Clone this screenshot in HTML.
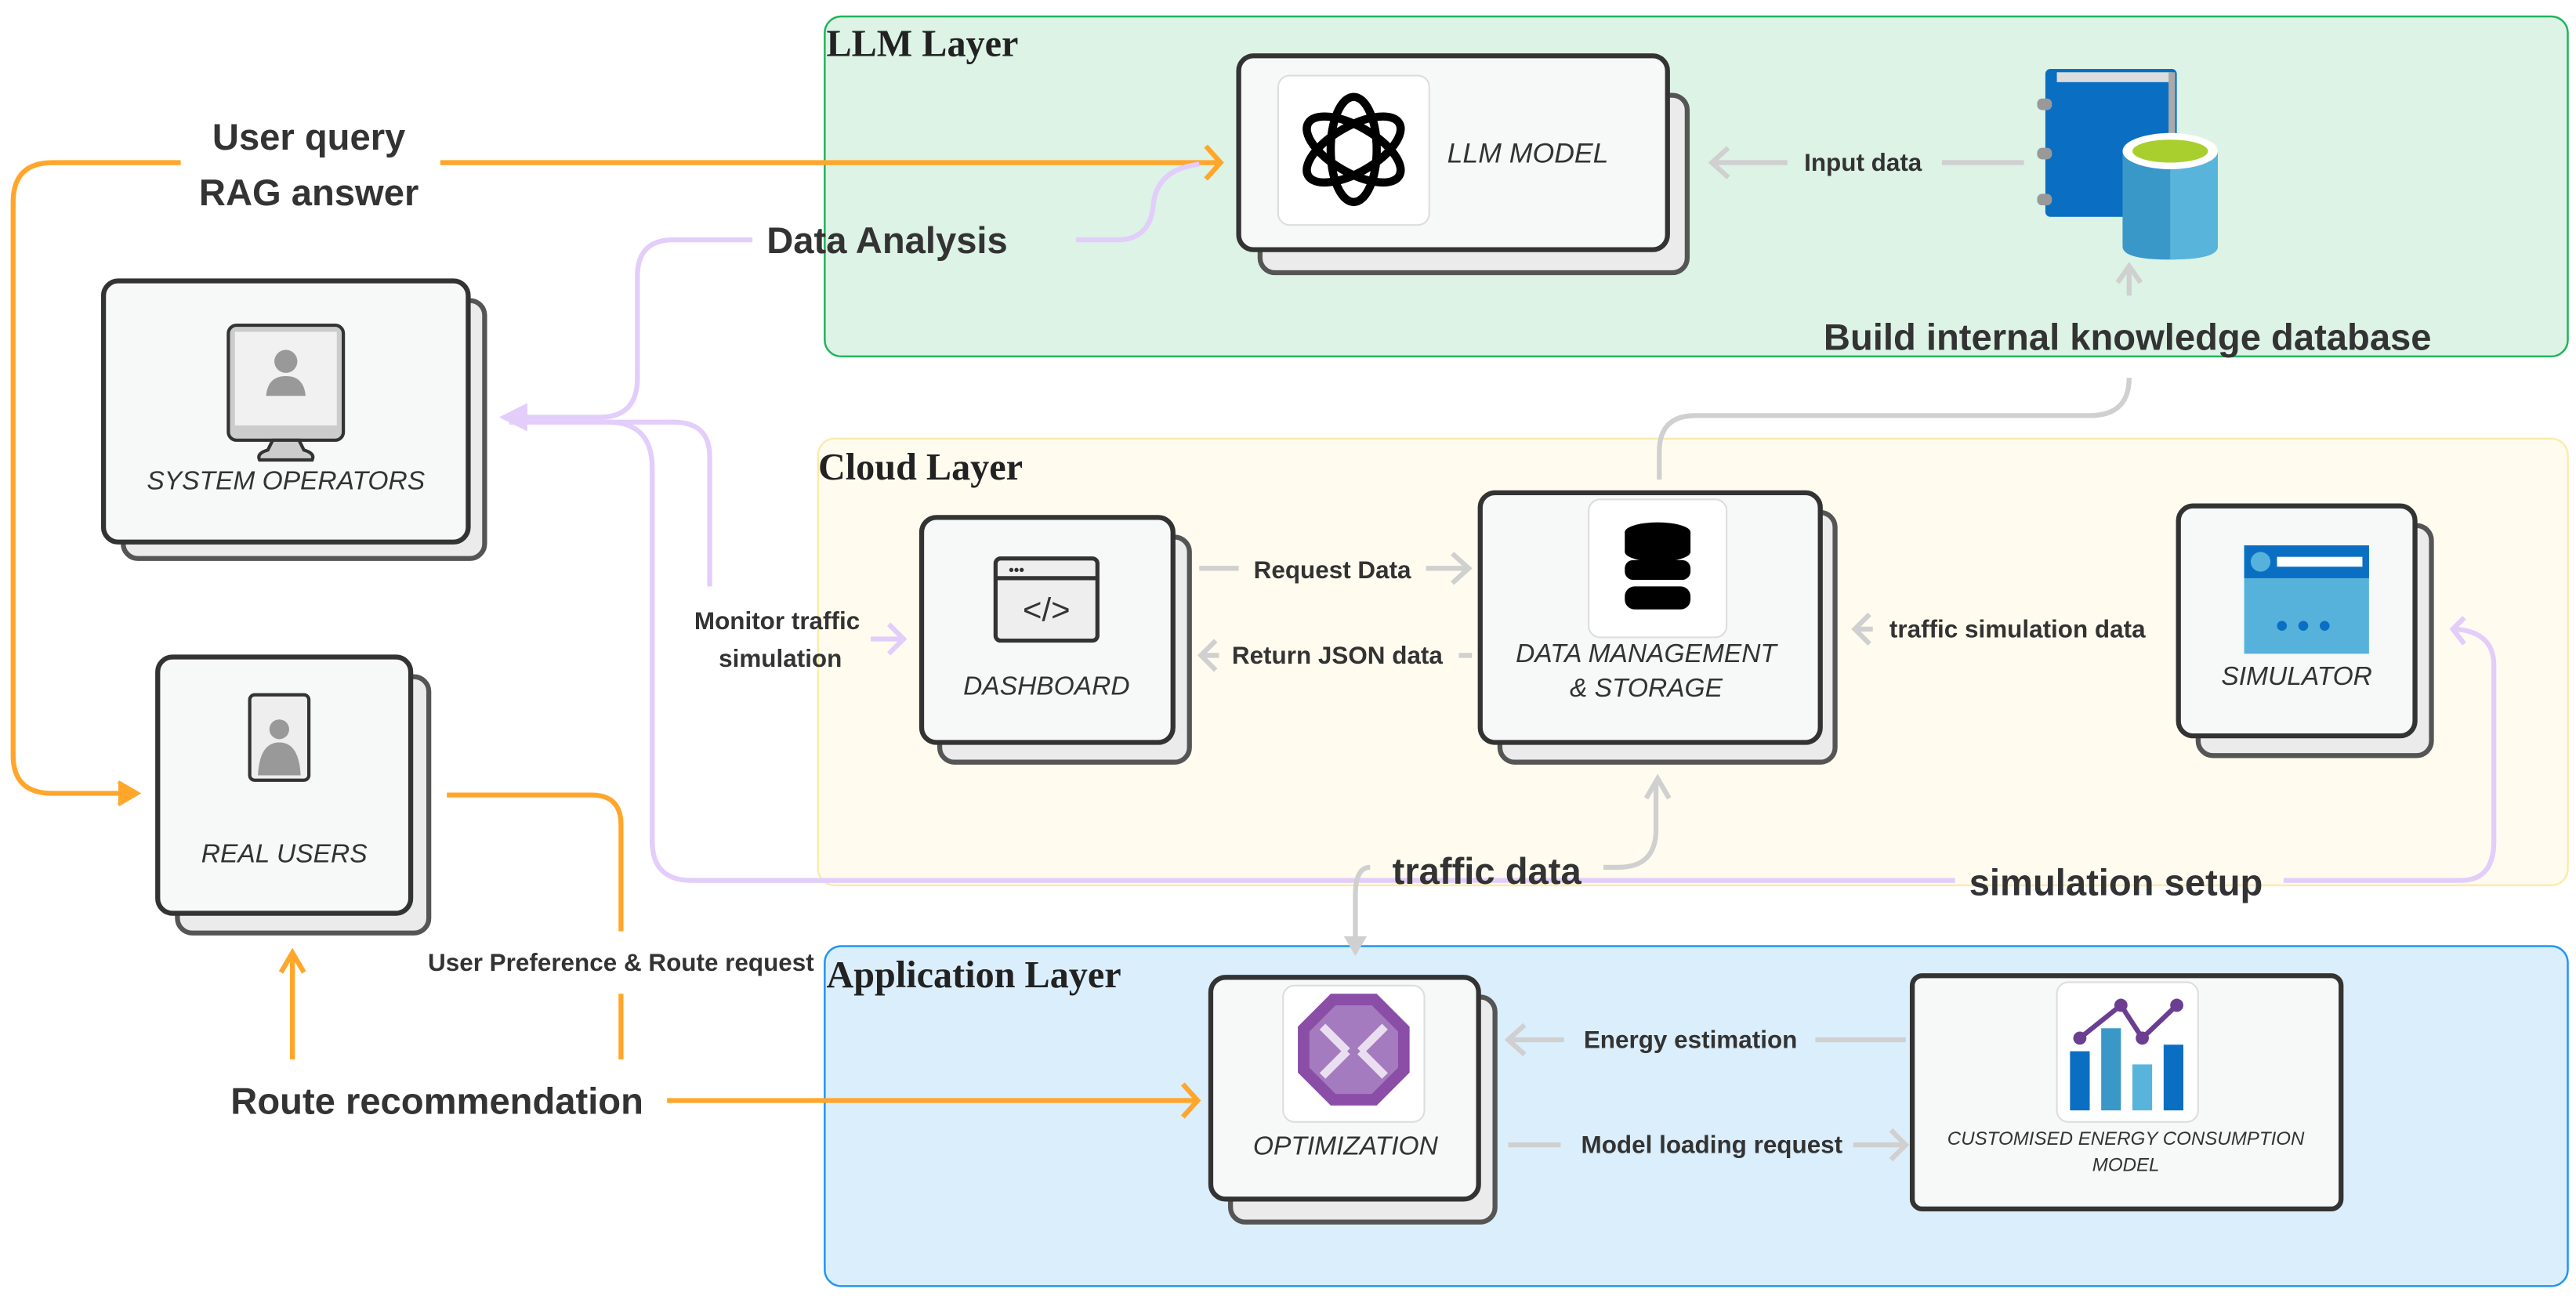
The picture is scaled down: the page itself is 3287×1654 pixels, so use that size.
<!DOCTYPE html>
<html><head><meta charset="utf-8"><style>
html,body{margin:0;padding:0;background:#fff;}
svg{display:block;}
text{font-family:"Liberation Sans",sans-serif;fill:#333;}
.b{font-weight:bold;}
.it{font-style:italic;font-size:16px;fill:#333;}
.t{font-family:"Liberation Serif",serif;font-weight:bold;font-size:23px;fill:#222;}
.o{fill:none;stroke:#ffa62b;stroke-width:3;}
.p{fill:none;stroke:#e2cdfb;stroke-width:3;}
.g{fill:none;stroke:#d0d0d0;stroke-width:3;}
.card{fill:#f7f8f8;stroke:#333;stroke-width:3;}
.sh{fill:#ebebeb;stroke:#555;stroke-width:3;}
.tile{fill:#fff;stroke:#ddd;stroke-width:1;}
</style></head><body>
<svg width="3287" height="1654" viewBox="0 0 1568 789" xmlns="http://www.w3.org/2000/svg">
<rect x="502" y="10" width="1061" height="207" rx="10" fill="#dcf3e6" stroke="#22b35e" stroke-width="1.2"/>
<rect x="498" y="267" width="1065" height="272" rx="10" fill="#fffcef" stroke="#fcebaa" stroke-width="1.2"/>
<rect x="502" y="576" width="1061" height="207" rx="10" fill="#dbeefb" stroke="#2196f3" stroke-width="1.2"/>
<text x="503" y="34" class="t">LLM Layer</text>
<text x="498" y="292" class="t">Cloud Layer</text>
<text x="503" y="601" class="t">Application Layer</text>

<path class="o" d="M110,99 H32 Q8,99 8,123 V460 Q8,483 32,483 H80"/>
<path d="M72,476 L84,483 L72,490" fill="#ffa62b" stroke="#ffa62b" stroke-width="2"/>
<path class="o" d="M268,99 H742"/>
<path class="o" d="M734,89 L743,99 L734,109"/>
<path class="p" d="M655,146 H680 Q700,146 702,125 Q704,103 730,100"/>
<path class="p" d="M458,146 H410 Q388,146 388,168 V230 Q388,254 365,254 H310"/>
<path d="M320,247 L306,254 L320,261 Z" fill="#e2cdfb" stroke="#e2cdfb" stroke-width="2"/>
<path class="p" d="M432,357 V278 Q432,257 410,257 H310"/>
<path class="p" d="M370,257 Q397,257 397,285 V512 Q397,536 421,536 H1190"/>
<path class="p" d="M1390,536 H1498 Q1518,536 1518,512 V405 Q1518,385 1495,383"/>
<path class="p" d="M1500,376 L1493,383 L1500,392"/>
<path class="p" d="M530,389 H549"/><path class="p" d="M541,380 L550,389 L541,398"/>
<path class="g" d="M976,528 H985 Q1008,528 1008,505 V476"/>
<path class="g" d="M1002,486 L1009,474 L1016,486"/>
<path class="g" d="M834,528 Q825,528 825,545 V580"/>
<path d="M818,570 L825,582 L832,570 Z" fill="#d0d0d0"/>
<path class="g" d="M1296,230 Q1296,253 1272,253 H1032 Q1010,253 1010,275 V292"/>
<path class="g" d="M1296,180 V162"/><path class="g" d="M1289,172 L1296,162 L1303,172"/>
<path class="g" d="M1232,99 H1182"/><path class="g" d="M1088,99 H1042"/><path class="g" d="M1052,90 L1042,99 L1052,108"/>
<path class="g" d="M730,346 H754"/><path class="g" d="M868,346 H894"/><path class="g" d="M884,337 L894,346 L884,355"/>
<path class="g" d="M740,390 L731,399 L740,408"/><path class="g" d="M731,399 H742"/><path class="g" d="M888,399 H896"/>
<path class="g" d="M1138,374 L1129,383 L1138,392"/><path class="g" d="M1129,383 H1140"/>
<path class="g" d="M928,624 L918,633 L928,642"/><path class="g" d="M918,633 H952"/><path class="g" d="M1105,633 H1160"/>
<path class="g" d="M918,697 H950"/><path class="g" d="M1128,697 H1160"/><path class="g" d="M1151,688 L1160,697 L1151,706"/>
<path class="o" d="M406,670 H728"/><path class="o" d="M720,660 L729,670 L720,680"/>
<path class="o" d="M272,484 H360 Q378,484 378,502 V567"/>
<path class="o" d="M378,605 V645"/>
<path class="o" d="M178,645 V582"/><path class="o" d="M171,592 L178,580 L185,592"/>

<text x="188" y="91" class="b" font-size="22.5" text-anchor="middle">User query</text>
<text x="188" y="125" class="b" font-size="22.5" text-anchor="middle">RAG answer</text>
<text x="540" y="154" class="b" font-size="22.5" text-anchor="middle">Data Analysis</text>
<text x="473" y="383" class="b" font-size="15" text-anchor="middle">Monitor traffic</text>
<text x="475" y="406" class="b" font-size="15" text-anchor="middle">simulation</text>
<text x="905" y="538" class="b" font-size="22.5" text-anchor="middle">traffic data</text>
<text x="1288" y="545" class="b" font-size="22.5" text-anchor="middle">simulation setup</text>
<text x="1295" y="213" class="b" font-size="22.5" text-anchor="middle">Build internal knowledge database</text>
<text x="1134" y="104" class="b" font-size="15" text-anchor="middle">Input data</text>
<text x="811" y="352" class="b" font-size="15" text-anchor="middle">Request Data</text>
<text x="814" y="404" class="b" font-size="15" text-anchor="middle">Return JSON data</text>
<text x="1228" y="388" class="b" font-size="15" text-anchor="middle">traffic simulation data</text>
<text x="1029" y="638" class="b" font-size="15" text-anchor="middle">Energy estimation</text>
<text x="1042" y="702" class="b" font-size="15" text-anchor="middle">Model loading request</text>
<text x="378" y="591" class="b" font-size="15" text-anchor="middle">User Preference &amp; Route request</text>
<text x="266" y="678" class="b" font-size="22.5" text-anchor="middle">Route recommendation</text>

<rect x="75" y="183" width="220" height="157" rx="9" class="sh"/>
<rect x="63" y="171" width="222" height="159" rx="9" class="card"/>
<rect x="139" y="198" width="70" height="70" rx="5" fill="#ccc" stroke="#333" stroke-width="2"/>
<rect x="143" y="202" width="62" height="57" fill="#f1f1f1"/>
<circle cx="174" cy="220" r="7" fill="#999"/><path d="M162,241 Q163,229 174,229 Q185,229 186,241 Z" fill="#999"/>
<path d="M166,268 L163,274 Q156,276 158,280 H190 Q192,276 185,274 L182,268 Z" fill="#ccc" stroke="#333" stroke-width="2"/>
<text x="174" y="298" class="it" text-anchor="middle">SYSTEM OPERATORS</text>

<rect x="108" y="412" width="153" height="156" rx="9" class="sh"/>
<rect x="96" y="400" width="154" height="156" rx="9" class="card"/>
<rect x="152" y="423" width="36" height="52" rx="3" fill="#eee" stroke="#333" stroke-width="2"/>
<circle cx="170" cy="444" r="6" fill="#999"/><path d="M157,472 Q158,452 170,452 Q182,452 183,472 Z" fill="#999"/>
<text x="173" y="525" class="it" text-anchor="middle">REAL USERS</text>

<rect x="767" y="58" width="260" height="108" rx="9" class="sh"/>
<rect x="754" y="34" width="261" height="118" rx="9" class="card"/>
<rect x="778" y="46" width="92" height="91" rx="7" class="tile"/>
<g fill="none" stroke="#000" stroke-width="5">
<ellipse cx="824" cy="91" rx="14" ry="32"/>
<ellipse cx="824" cy="91" rx="14" ry="32" transform="rotate(60 824 91)"/>
<ellipse cx="824" cy="91" rx="14" ry="32" transform="rotate(120 824 91)"/>
</g>
<text x="930" y="99" class="it" style="font-size:17px" text-anchor="middle">LLM MODEL</text>

<rect x="1245" y="42" width="80" height="90" rx="3" fill="#0a6fc2"/>
<rect x="1252" y="44" width="70" height="6" fill="#ddd"/>
<rect x="1320" y="44" width="4" height="86" fill="#aaa"/>
<rect x="1240" y="60" width="9" height="7" rx="3" fill="#999"/>
<rect x="1240" y="90" width="9" height="7" rx="3" fill="#999"/>
<rect x="1240" y="118" width="9" height="7" rx="3" fill="#999"/>
<path d="M1292,92 V150 Q1292,158 1320,158 Q1350,158 1350,150 V92 Z" fill="#3a98c9"/>
<path d="M1321,92 V158 Q1350,158 1350,150 V92 Z" fill="#59b4dc"/>
<ellipse cx="1321" cy="92" rx="29" ry="11" fill="#fff"/>
<ellipse cx="1321" cy="92" rx="23" ry="7" fill="#a8cf2d"/>

<rect x="572" y="327" width="152" height="137" rx="9" class="sh"/>
<rect x="561" y="315" width="153" height="137" rx="9" class="card"/>
<rect x="606" y="340" width="62" height="50" rx="3" fill="#eee" stroke="#333" stroke-width="2.5"/>
<line x1="606" y1="352" x2="668" y2="352" stroke="#333" stroke-width="2.5"/>
<text x="614" y="350" font-size="9" class="b">•••</text>
<text x="637" y="378" font-size="20" text-anchor="middle" fill="#555">&lt;/&gt;</text>
<text x="637" y="423" class="it" text-anchor="middle">DASHBOARD</text>

<rect x="913" y="312" width="204" height="152" rx="9" class="sh"/>
<rect x="901" y="300" width="207" height="152" rx="9" class="card"/>
<rect x="967" y="304" width="84" height="84" rx="7" class="tile"/>
<g fill="#000"><ellipse cx="1009" cy="324" rx="20" ry="6"/><rect x="989" y="324" width="40" height="12"/><ellipse cx="1009" cy="336" rx="20" ry="6"/>
<rect x="989" y="341" width="40" height="12" rx="5"/><rect x="989" y="357" width="40" height="14" rx="6"/></g>
<text x="1002" y="403" class="it" text-anchor="middle">DATA MANAGEMENT</text>
<text x="1002" y="424" class="it" text-anchor="middle">&amp; STORAGE</text>

<rect x="1338" y="320" width="142" height="140" rx="9" class="sh"/>
<rect x="1326" y="308" width="144" height="140" rx="9" class="card"/>
<rect x="1366" y="332" width="76" height="66" fill="#56b2db"/>
<rect x="1366" y="332" width="76" height="20" fill="#0a6fc2"/>
<circle cx="1376" cy="342" r="6" fill="#56b2db"/>
<rect x="1386" y="339" width="52" height="6" fill="#fff"/>
<circle cx="1389" cy="381" r="3" fill="#0a6fc2"/><circle cx="1402" cy="381" r="3" fill="#0a6fc2"/><circle cx="1415" cy="381" r="3" fill="#0a6fc2"/>
<text x="1398" y="417" class="it" text-anchor="middle">SIMULATOR</text>

<rect x="749" y="607" width="161" height="137" rx="9" class="sh"/>
<rect x="737" y="595" width="163" height="135" rx="9" class="card"/>
<rect x="781" y="600" width="86" height="83" rx="7" class="tile"/>
<polygon points="810,605 838,605 858,625 858,653 838,673 810,673 790,653 790,625" fill="#8a4ea7"/>
<polygon points="813,612 835,612 851,628 851,650 835,666 813,666 797,650 797,628" fill="#a57bbf"/>
<path d="M805,625 L820,640 M843,625 L828,640 M805,655 L820,640 M843,655 L828,640" stroke="#eadff1" stroke-width="5"/>
<text x="819" y="703" class="it" text-anchor="middle">OPTIMIZATION</text>

<rect x="1164" y="594" width="261" height="142" rx="6" class="card"/>
<rect x="1252" y="598" width="86" height="85" rx="7" class="tile"/>
<rect x="1260" y="640" width="12" height="36" fill="#0a6fc2"/>
<rect x="1279" y="626" width="12" height="50" fill="#3a98c9"/>
<rect x="1298" y="648" width="12" height="28" fill="#59b4dc"/>
<rect x="1317" y="636" width="12" height="40" fill="#0a6fc2"/>
<polyline points="1266,632 1291,612 1304,632 1325,612" fill="none" stroke="#6b3e91" stroke-width="3"/>
<circle cx="1266" cy="632" r="4" fill="#6b3e91"/><circle cx="1291" cy="612" r="4" fill="#6b3e91"/><circle cx="1304" cy="632" r="4" fill="#6b3e91"/><circle cx="1325" cy="612" r="4" fill="#6b3e91"/>
<text x="1294" y="697" class="it" style="font-size:11.5px" text-anchor="middle">CUSTOMISED ENERGY CONSUMPTION</text>
<text x="1294" y="713" class="it" style="font-size:11.5px" text-anchor="middle">MODEL</text>
</svg>
</body></html>
